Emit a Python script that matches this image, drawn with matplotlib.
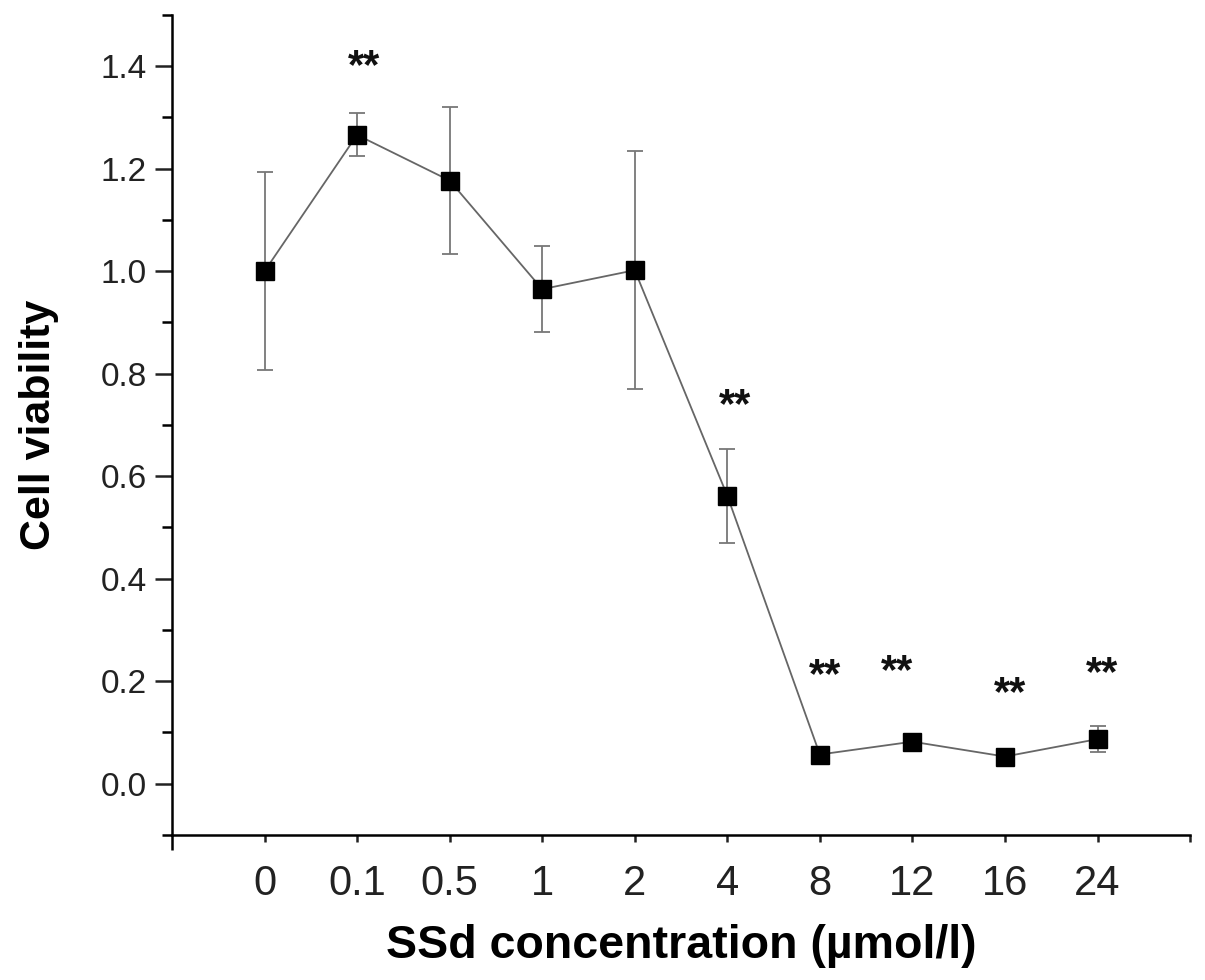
import numpy as np
import matplotlib
matplotlib.use("Agg")
import matplotlib.pyplot as plt
from matplotlib.ticker import MultipleLocator, FixedLocator

plt.rcParams['font.family'] = ['Liberation Sans', 'DejaVu Sans']

# Data
conc_labels = ["0", "0.1", "0.5", "1", "2", "4", "8", "12", "16", "24"]
viability = [1.000, 1.266, 1.177, 0.965, 1.002, 0.562, 0.057, 0.082, 0.053, 0.087]
viability_err = [0.193, 0.042, 0.144, 0.084, 0.232, 0.092, 0.005, 0.008, 0.010, 0.026]

# significance stars (x in category units, y = centre of the glyph in data units)
star_x = [1.08, 5.08, 6.06, 6.83, 8.06, 9.05]
star_y = [1.402, 0.739, 0.213, 0.220, 0.177, 0.216]

x = np.arange(len(conc_labels))

fig = plt.figure(figsize=(12.05, 9.8), dpi=100)
ax = fig.add_axes([0.1427, 0.148, 0.8449, 0.8367])

ax.errorbar(x, viability, yerr=viability_err, fmt='none', ecolor='#777777',
            elinewidth=1.3, capsize=6, capthick=1.3, zorder=2)
ax.plot(x, viability, color='#666666', lw=1.3, zorder=3)
ax.plot(x, viability, 's', color='black', markersize=13, zorder=4)

# asterisk glyph sits high above the baseline, so shift the baseline down
for sx, sy in zip(star_x, star_y):
    ax.annotate("**", (sx, sy), xytext=(0, -9), textcoords='offset points',
                ha='center', va='baseline', fontsize=30, fontweight='bold',
                color='#111111')

ax.set_xlim(-1, 10)
ax.set_ylim(-0.1, 1.5)

ax.xaxis.set_major_locator(FixedLocator(list(x) + [10]))
ax.set_xticklabels(conc_labels + [""])
ax.xaxis.set_minor_locator(FixedLocator([-1]))
ax.yaxis.set_major_locator(FixedLocator([0.0, 0.2, 0.4, 0.6, 0.8, 1.0, 1.2, 1.4]))
ax.yaxis.set_minor_locator(MultipleLocator(0.1))
ax.yaxis.set_major_formatter(matplotlib.ticker.FormatStrFormatter('%.1f'))

ax.spines['top'].set_visible(False)
ax.spines['right'].set_visible(False)
ax.spines['left'].set_linewidth(1.8)
ax.spines['bottom'].set_linewidth(1.8)

ax.tick_params(axis='x', which='major', length=5, width=1.8, labelsize=30, pad=16, colors='#222222')
ax.tick_params(axis='x', which='minor', length=11, width=1.8)
ax.tick_params(axis='y', which='major', length=12, width=1.8, labelsize=24, pad=6, colors='#222222')
ax.tick_params(axis='y', which='minor', length=7, width=1.8)

ax.set_xlabel("SSd concentration (µmol/l)", fontsize=33.5, fontweight='bold', labelpad=14)
ax.set_ylabel("Cell viability", fontsize=31, fontweight='bold', labelpad=30)

fig.savefig("out.png", dpi=100)
